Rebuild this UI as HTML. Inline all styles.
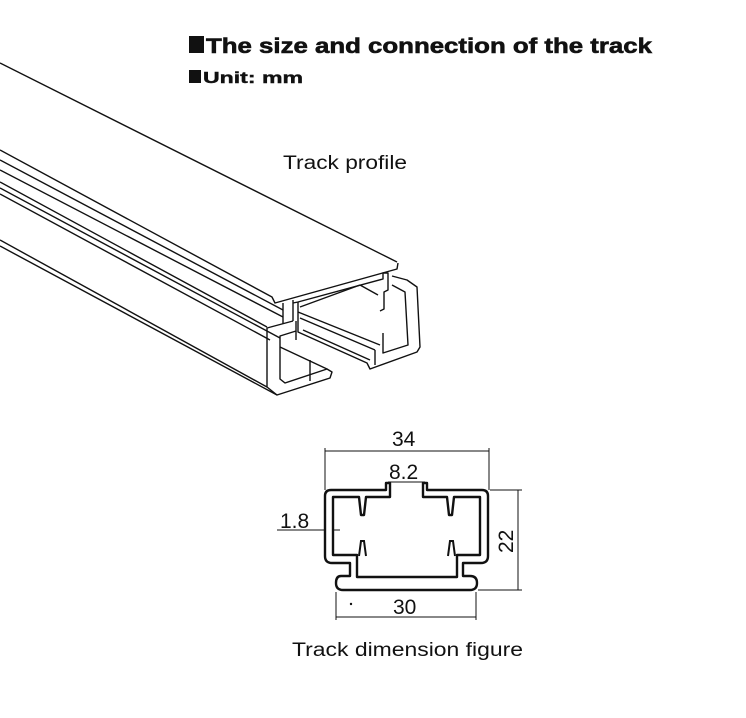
<!DOCTYPE html>
<html><head><meta charset="utf-8"><style>
html,body{margin:0;padding:0;background:#fff}
svg{display:block}
text{font-family:"Liberation Sans",Arial,sans-serif;fill:#111}
</style></head><body>
<svg width="746" height="718" viewBox="0 0 746 718" xmlns="http://www.w3.org/2000/svg">
<rect width="746" height="718" fill="#fff"/>
<rect x="189" y="36" width="15" height="17" fill="#111"/>
<text x="206" y="53" font-size="21" font-weight="bold" stroke="#111" stroke-width="0.6" textLength="446" lengthAdjust="spacingAndGlyphs">The size and connection of the track</text>
<rect x="189" y="70" width="12" height="13" fill="#111"/>
<text x="203" y="83" font-size="16" font-weight="bold" stroke="#111" stroke-width="0.4" textLength="100" lengthAdjust="spacingAndGlyphs">Unit: mm</text>
<text x="283" y="169" font-size="19" textLength="124" lengthAdjust="spacingAndGlyphs">Track profile</text>
<text x="292" y="656" font-size="19" textLength="231" lengthAdjust="spacingAndGlyphs">Track dimension figure</text>

<g fill="none" stroke="#111" stroke-width="1.4" stroke-linejoin="round">
<line x1="0" y1="63" x2="397" y2="262"/>
<polyline points="0,150 272,297 275,303 397,269 398,263"/>
<line x1="0" y1="160" x2="283" y2="310"/>
<line x1="0" y1="170" x2="283" y2="317"/>
<line x1="0" y1="182" x2="267" y2="327"/>
<line x1="0" y1="188" x2="280" y2="338"/>
<line x1="0" y1="194" x2="270" y2="340"/>
<line x1="0" y1="240" x2="267" y2="387"/>
<line x1="0" y1="246" x2="277" y2="395"/>
<!-- stem -->
<line x1="283" y1="303" x2="283" y2="324"/>
<line x1="293" y1="300" x2="293" y2="321"/>
<!-- left C -->
<polyline points="293,321 267,328 267,387 277,395 330,378 332,372 327,369 285,383 280,379 280,336 296,331 296,321"/>
<line x1="280" y1="347" x2="327" y2="369"/>
<line x1="310" y1="360" x2="310" y2="381"/>
<line x1="296" y1="331" x2="296" y2="340"/>
<!-- right C -->
<polyline points="293,303 298,302 383,279 383,273 388,273 388,290 384,292 384,309 380,311"/>
<polyline points="298,302 298,332 367,363 370,369 417,352 420,347 417,287 407,280 392,276"/>
<polyline points="392,285 405,292 408,345 383,353 383,333"/>
<line x1="298" y1="312" x2="380" y2="345"/>
<line x1="300" y1="318" x2="375" y2="350"/>
<line x1="303" y1="330" x2="370" y2="360"/>
<line x1="375" y1="350" x2="375" y2="365"/>
<line x1="300" y1="307" x2="360" y2="285"/>
<line x1="360" y1="285" x2="378" y2="295"/>
</g>

<!-- Dimension figure -->
<g stroke="#111" stroke-width="1" fill="none">
<line x1="325" y1="451" x2="489" y2="451"/>
<line x1="325" y1="448" x2="325" y2="490"/>
<line x1="489" y1="448" x2="489" y2="490"/>
<line x1="388" y1="482" x2="425" y2="482"/>
<line x1="490" y1="490" x2="522" y2="490"/>
<line x1="478" y1="590" x2="522" y2="590"/>
<line x1="518" y1="490" x2="518" y2="590"/>
<line x1="336" y1="617" x2="476" y2="617"/>
<line x1="336" y1="592" x2="336" y2="620"/>
<line x1="476" y1="592" x2="476" y2="620"/>
<line x1="277" y1="530" x2="340" y2="530"/>
</g>
<path fill="#fff" stroke="#111" stroke-width="2.4" stroke-linejoin="round"
d="M390,483 H386 V490 H331 Q325,490 325,496 V556 Q325,563 332,563 H350 V576 H341 Q336,576 336,583 Q336,590 343,590 H470 Q477,590 477,583 Q477,576 470,576 H463 V563 H481 Q488,563 488,556 V496 Q488,490 482,490 H427 V483 H423 V497 H447 L449,515 L452,515 L454,497 H480 V555 H457 V577 H357 V555 H333 V497 H359 L361,515 L364,515 L366,497 H390 Z"/>
<path fill="#fff" stroke="#111" stroke-width="2" d="M359,556 L361,541 L364,541 L366,556"/>
<path fill="#fff" stroke="#111" stroke-width="2" d="M448,556 L450,541 L453,541 L455,556"/>
<circle cx="351" cy="604" r="1.2" fill="#111"/>
<text x="392" y="446" font-size="21">34</text>
<text x="389" y="479" font-size="21">8.2</text>
<text x="280" y="528" font-size="21">1.8</text>
<text x="393" y="614" font-size="21">30</text>
<text x="0" y="0" font-size="21" transform="translate(513,553) rotate(-90)">22</text>
</svg>
</body></html>
